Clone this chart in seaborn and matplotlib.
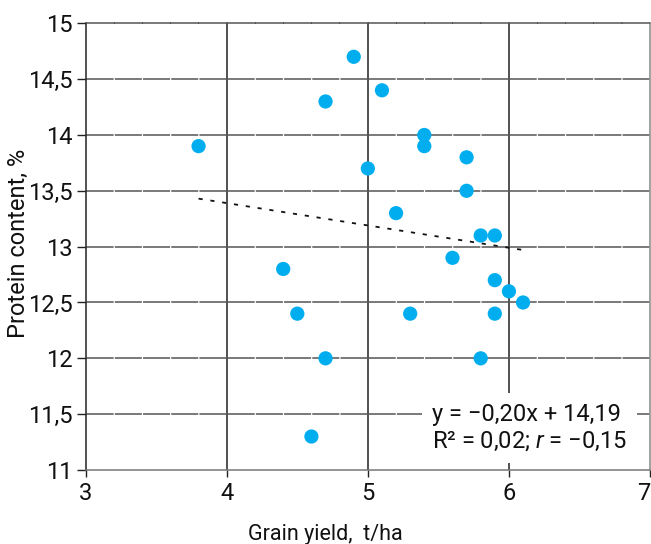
import numpy as np
import matplotlib.pyplot as plt
import seaborn as sns

# Data
grain_yield = [3.8, 4.4, 4.5, 4.6, 4.7, 4.7, 4.9, 5.0, 5.1, 5.2, 5.3, 5.4,
               5.4, 5.6, 5.7, 5.7, 5.8, 5.8, 5.9, 5.9, 5.9, 6.0, 6.1]
protein = [13.9, 12.8, 12.4, 11.3, 14.3, 12.0, 14.7, 13.7, 14.4, 13.3, 12.4, 14.0,
           13.9, 12.9, 13.8, 13.5, 13.1, 12.0, 13.1, 12.7, 12.4, 12.6, 12.5]

slope = -0.20
intercept = 14.19

x_ticks = [3, 4, 5, 6, 7]
x_tick_labels = ["3", "4", "5", "6", "7"]
y_ticks = [11, 11.5, 12, 12.5, 13, 13.5, 14, 14.5, 15]
y_tick_labels = ["11", "11,5", "12", "12,5", "13", "13,5", "14", "14,5", "15"]

equation_text = "y = \u22120,20x + 14,19\nR\u00b2 = 0,02; $r$ = \u22120,15"

sns.set_style("white")
plt.rcParams["font.family"] = ["Roboto", "DejaVu Sans"]
plt.rcParams["mathtext.fontset"] = "custom"
plt.rcParams["mathtext.rm"] = "Roboto"
plt.rcParams["mathtext.it"] = "Roboto:italic"
plt.rcParams["mathtext.bf"] = "Roboto:bold"
plt.rcParams["lines.scale_dashes"] = False

fig = plt.figure(figsize=(6.51, 5.44), dpi=100)
ax = fig.add_axes([85.7 / 651, 1 - 470 / 544, 564.3 / 651, 446.7 / 544])

# horizontal grid: gray with small breaks every 0.2 on x
grid_dash = (19.87, (19.45, 0.86))
ax.grid(axis="y", color="#555555", linewidth=1.1, linestyle=grid_dash, zorder=0)
ax.grid(axis="x", color="#222222", linewidth=1.1, zorder=0)
ax.set_axisbelow(True)

# points
sns.scatterplot(x=grain_yield, y=protein, ax=ax, color="#00AEEF", s=105,
                edgecolor="none", linewidth=0, zorder=3)

# trend line
fit_x = np.array([min(grain_yield), max(grain_yield)])
ax.plot(fit_x, slope * fit_x + intercept, color="#111111", linewidth=1.3,
        linestyle=(0, (3.0, 5.6)), zorder=2)

ax.set_xlim(3, 7)
ax.set_ylim(11, 15)
ax.set_xticks(x_ticks)
ax.set_xticklabels(x_tick_labels)
ax.set_yticks(y_ticks)
ax.set_yticklabels(y_tick_labels)

# last x label sits against the figure edge
ax.get_xticklabels()[-1].set_horizontalalignment("right")

# hide gridlines sitting on the frame
xt = ax.xaxis.get_major_ticks()
xt[0].gridline.set_visible(False)
xt[-1].gridline.set_visible(False)
yt = ax.yaxis.get_major_ticks()
yt[0].gridline.set_visible(False)
yt[-1].gridline.set_visible(False)

ax.tick_params(axis="x", direction="out", length=5, width=1.0, color="#222222",
               pad=3.5, labelsize=17, labelcolor="#111111", bottom=True)
ax.tick_params(axis="y", direction="out", length=6.5, width=1.0, color="#222222",
               pad=3, labelsize=17, labelcolor="#111111", left=True)

for side in ["left", "right", "bottom", "top"]:
    ax.spines[side].set_visible(True)
    ax.spines[side].set_linewidth(1.1)
ax.spines["left"].set_color("#222222")
ax.spines["bottom"].set_color("#777777")
ax.spines["right"].set_color("#888888")
ax.spines["top"].set_color("#555555")
ax.spines["top"].set_linestyle(grid_dash)

ax.set_xlabel("Grain yield,  t/ha", fontsize=15.5, color="#111111", va="baseline")
ax.xaxis.set_label_coords(0.424, -0.157)
ax.set_ylabel("Protein content, %", fontsize=17, color="#111111", va="center")
ax.yaxis.set_label_coords(-0.12, 0.507)

ax.text(0.614, 0.094, equation_text, transform=ax.transAxes, ha="left", va="center",
        fontsize=17, color="#111111", linespacing=1.2, zorder=5,
        bbox=dict(facecolor="white", edgecolor="none", pad=7))

plt.savefig("out.png", dpi=100)
